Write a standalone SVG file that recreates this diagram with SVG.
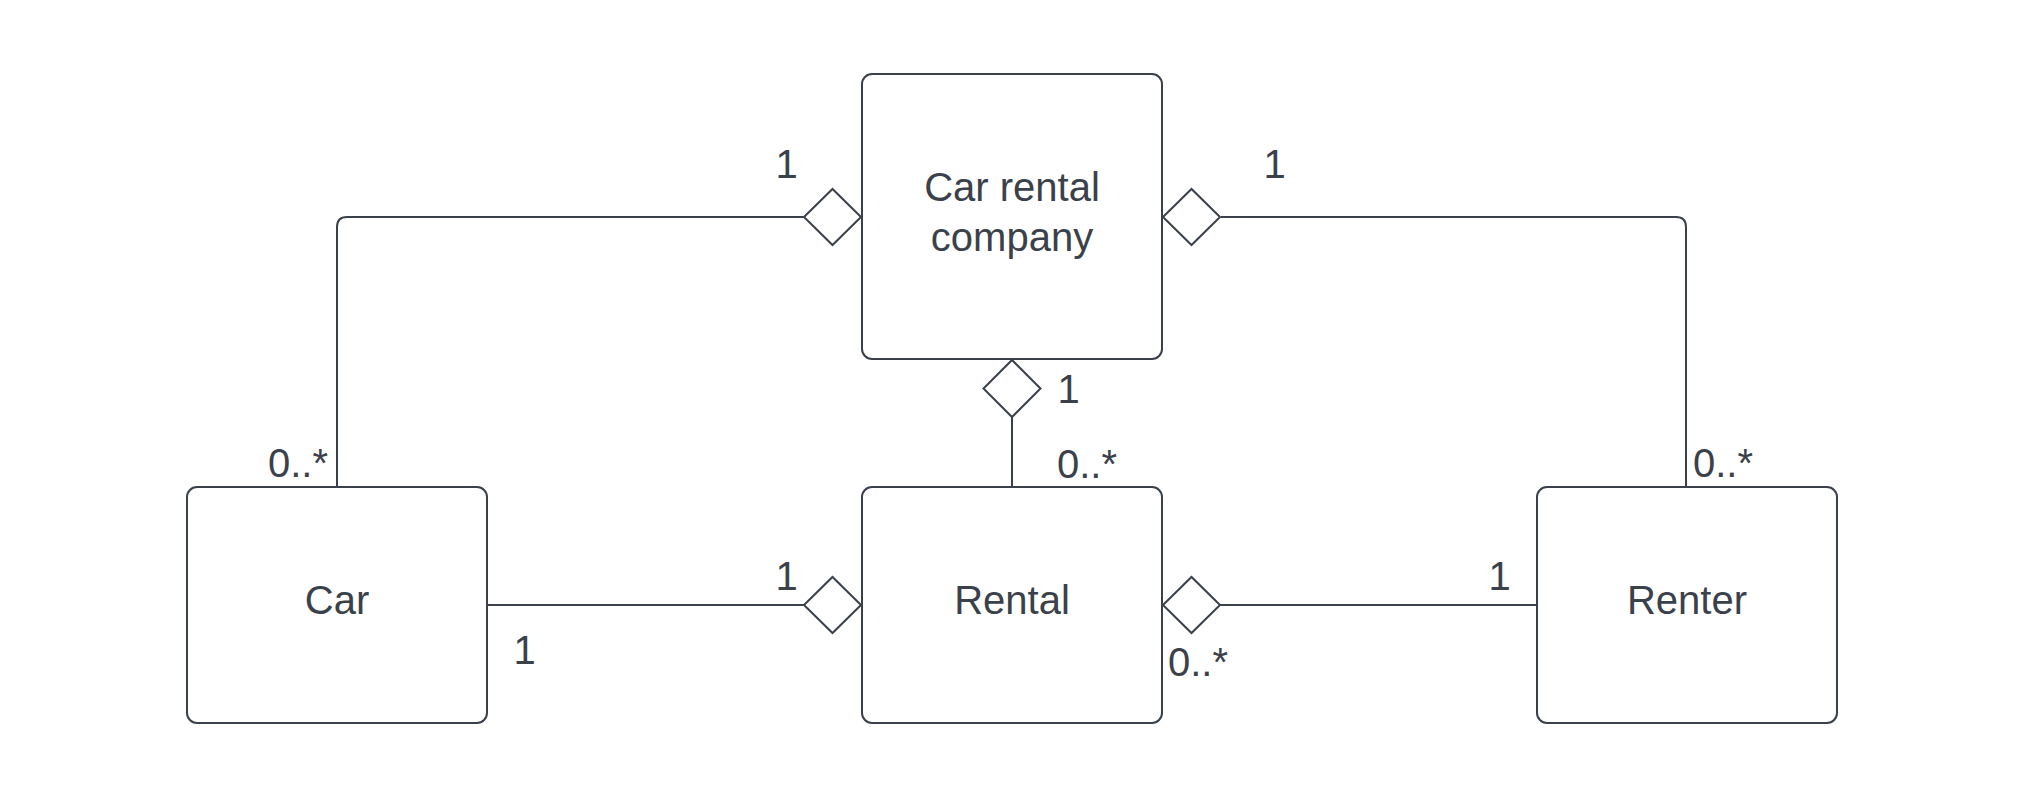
<svg xmlns="http://www.w3.org/2000/svg" width="2025" height="799" viewBox="0 0 2025 799">
<defs>
<style>
.node{fill:#ffffff;stroke:#3a414a;stroke-width:2}
.t{font-family:"Liberation Sans",Arial,sans-serif;font-size:40px;fill:#3a414a}
.c{text-anchor:middle}
.ln{fill:none;stroke:#3a414a;stroke-width:2}
.dia{fill:#ffffff;stroke:#3a414a;stroke-width:2;stroke-linejoin:miter}
</style>
</defs>
<rect width="2025" height="799" fill="#ffffff"/>
<g id="connectors">
<path class="ln" d="M337 487 V227 Q337 217 347 217 H804"/>
<polygon class="dia" points="804,217 832.5,189 861,217 832.5,245"/>
<path class="ln" d="M1221 217 H1676 Q1686 217 1686 227 V487"/>
<polygon class="dia" points="1163,217 1191.5,189 1220,217 1191.5,245"/>
<path class="ln" d="M1012 417 V487"/>
<polygon class="dia" points="1012,360 1040.5,388.5 1012,417 983.5,388.5"/>
<path class="ln" d="M487 605 H804"/>
<polygon class="dia" points="804,605 832.5,577 861,605 832.5,633"/>
<path class="ln" d="M1220 605 H1537"/>
<polygon class="dia" points="1163,605 1191.5,577 1220,605 1191.5,633"/>
<text class="t" x="775.5" y="178">1</text>
<text class="t" x="268" y="477">0..*</text>
<text class="t" x="1263.5" y="178">1</text>
<text class="t" x="1693" y="477">0..*</text>
<text class="t" x="1057.5" y="403">1</text>
<text class="t" x="1057" y="478">0..*</text>
<text class="t" x="775.5" y="590">1</text>
<text class="t" x="513.5" y="664">1</text>
<text class="t" x="1488.5" y="590">1</text>
<text class="t" x="1168" y="676">0..*</text>
</g>
<g id="company">
<rect class="node" x="862" y="74" width="300" height="285" rx="10" ry="10"/>
<text class="t c" x="1012" y="201">Car rental</text>
<text class="t c" x="1012" y="251">company</text>
</g>
<g id="car">
<rect class="node" x="187" y="487" width="300" height="236" rx="10" ry="10"/>
<text class="t c" x="337" y="614">Car</text>
</g>
<g id="rental">
<rect class="node" x="862" y="487" width="300" height="236" rx="10" ry="10"/>
<text class="t c" x="1012" y="614">Rental</text>
</g>
<g id="renter">
<rect class="node" x="1537" y="487" width="300" height="236" rx="10" ry="10"/>
<text class="t c" x="1687" y="614">Renter</text>
</g>
</svg>
